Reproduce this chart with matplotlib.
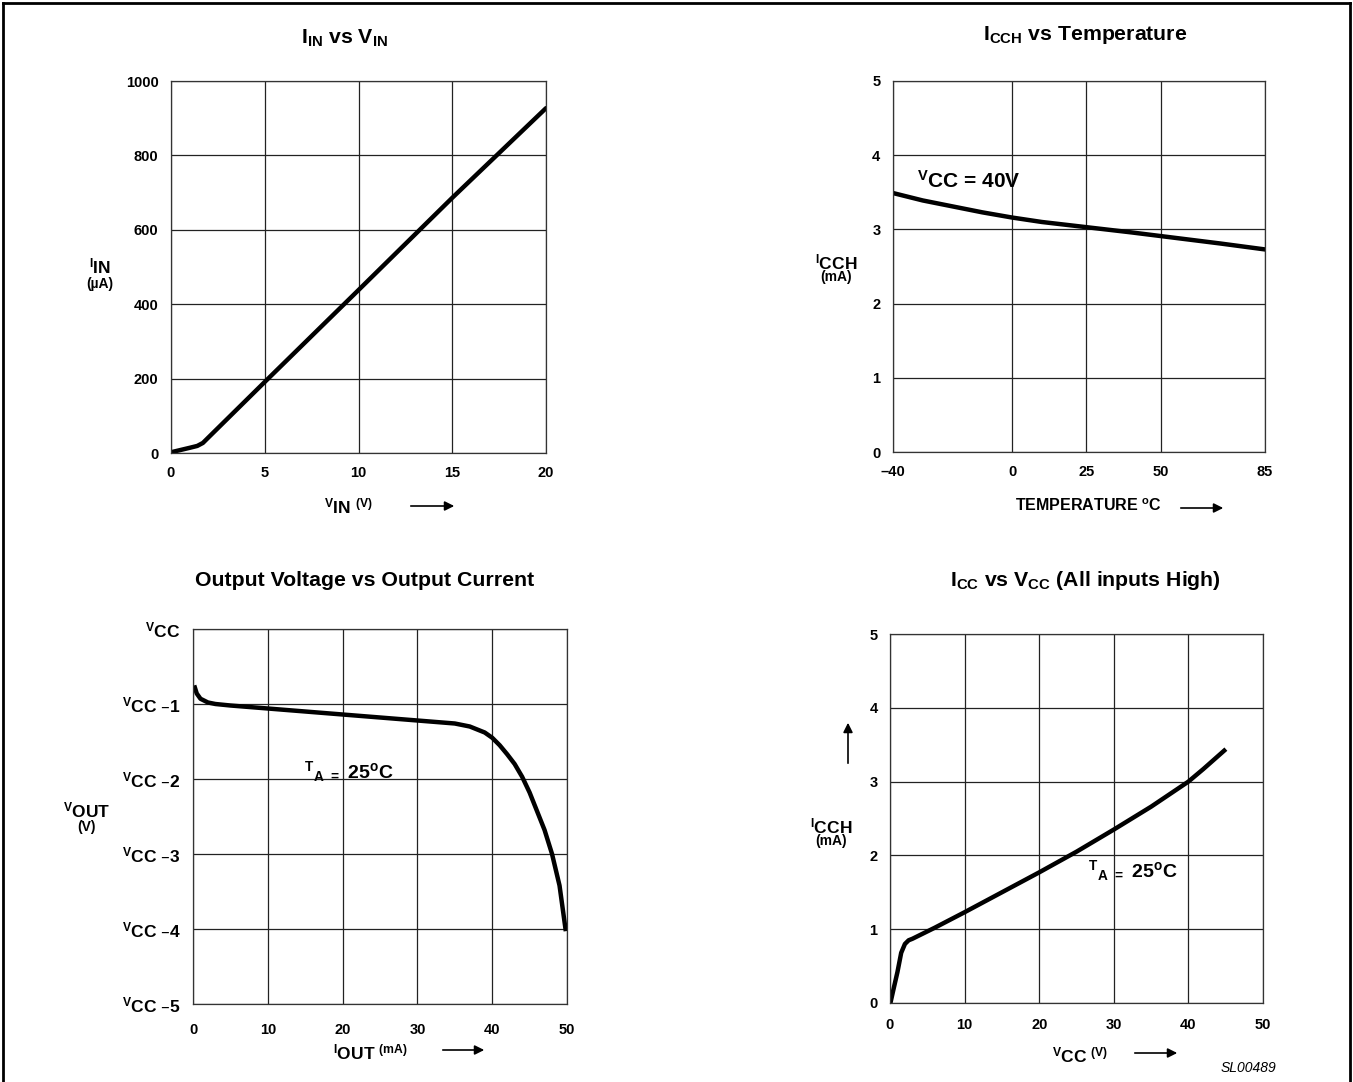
# Datasheet curves: input current, ICCH vs temperature, output voltage, ICC vs VCC
import matplotlib
matplotlib.use('Agg')
import matplotlib.pyplot as plt
from matplotlib.lines import Line2D

plt.rcParams['font.family'] = ['Liberation Sans', 'DejaVu Sans']
plt.rcParams['font.weight'] = 'bold'
plt.rcParams['mathtext.default'] = 'regular'

# I_IN vs V_IN
vin = [0, 0.5, 1.0, 1.4, 1.7, 2.0, 5, 10, 15, 20]
iin = [2, 8, 14, 19, 27, 42, 191, 438, 686, 927]

# I_CCH vs temperature (VCC = 40V)
temp = [-40, -30, -20, -10, 0, 10, 25, 40, 50, 60, 70, 85]
icch_t = [3.49, 3.39, 3.31, 3.23, 3.16, 3.10, 3.03, 2.96, 2.91, 2.86, 2.81, 2.73]
temp_ticks = [-40, 0, 25, 50, 85]

# output voltage vs output current
iout = [0.25, 0.5, 1, 2, 3, 5, 10, 20, 30, 35, 37, 39, 40, 41, 42, 43, 44, 45, 46, 47, 48, 49, 49.8]
vout = [-0.78, -0.86, -0.93, -0.98, -1.0, -1.02, -1.06, -1.14, -1.22, -1.26, -1.3, -1.38,
        -1.45, -1.55, -1.67, -1.8, -1.97, -2.18, -2.43, -2.68, -3.0, -3.42, -4.0]
vout_ticks = [0, -1, -2, -3, -4, -5]
vout_labels = [r'$^{V}$CC', r'$^{V}$CC –1', r'$^{V}$CC –2', r'$^{V}$CC –3', r'$^{V}$CC –4', r'$^{V}$CC –5']

# ICC vs VCC (all inputs high)
vcc = [0.1, 0.5, 1.0, 1.5, 2.0, 2.5, 3.0, 4, 6, 10, 15, 20, 25, 30, 35, 40, 42, 44.8]
icc = [0.02, 0.2, 0.42, 0.68, 0.8, 0.85, 0.87, 0.92, 1.02, 1.23, 1.5, 1.77, 2.05, 2.35, 2.66, 3.0, 3.17, 3.42]

W, H = 1353, 1082
fig = plt.figure(figsize=(W / 100, H / 100), dpi=100)


def fx(x):
    return x / W


def fy(y):
    return 1 - y / H


def make_ax(l, t, r, b):
    ax = fig.add_axes([fx(l), fy(b), (r - l) / W, (b - t) / H])
    ax.grid(True, color='#222222', lw=0.9)
    for s in ax.spines.values():
        s.set_linewidth(0.9)
        s.set_color('#333333')
    ax.tick_params(length=0, labelsize=10.5, pad=9)
    return ax


def arrow(x0, y0, x1, y1):
    fig.add_artist(matplotlib.patches.FancyArrowPatch(
        (fx(x0), fy(y0)), (fx(x1), fy(y1)), transform=fig.transFigure,
        arrowstyle='-|>', mutation_scale=14, color='black', lw=1.2))


TITLE = 15.3
LAB = 12.5
UNIT = 10

# panel 1
ax1 = make_ax(171, 81, 546, 453)
ax1.plot(vin, iin, color='black', lw=3.2, solid_capstyle='round')
ax1.set_xlim(0, 20)
ax1.set_ylim(0, 1000)
ax1.set_xticks([0, 5, 10, 15, 20])
ax1.set_yticks([0, 200, 400, 600, 800, 1000])
fig.text(fx(345), fy(38), r'$I_{IN}$ vs $V_{IN}$', ha='center', va='center', fontsize=TITLE)
fig.text(fx(100), fy(266), r'$^{I}$IN', ha='center', va='center', fontsize=LAB)
fig.text(fx(100), fy(284), '(µA)', ha='center', va='center', fontsize=UNIT)
fig.text(fx(348), fy(506), r'$^{V}$IN $^{(V)}$', ha='center', va='center', fontsize=LAB)
arrow(408, 506, 457, 506)

# panel 2
ax2 = make_ax(893, 81, 1265, 452)
ax2.plot(temp, icch_t, color='black', lw=3.2)
ax2.set_xlim(-40, 85)
ax2.set_ylim(0, 5)
ax2.set_xticks(temp_ticks)
ax2.set_xticklabels(['–40', '0', '25', '50', '85'])
ax2.set_yticks([0, 1, 2, 3, 4, 5])
ax2.text(-32, 3.66, r'$^{V}$CC = 40V', fontsize=15, va='center')
fig.text(fx(1085), fy(35), r'$I_{CCH}$ vs Temperature', ha='center', va='center', fontsize=TITLE)
fig.text(fx(836), fy(262), r'$^{I}$CCH', ha='center', va='center', fontsize=LAB)
fig.text(fx(836), fy(277), '(mA)', ha='center', va='center', fontsize=UNIT)
fig.text(fx(1088), fy(506), r'TEMPERATURE $^{o}$C', ha='center', va='center', fontsize=11.5)
arrow(1178, 508, 1226, 508)

# panel 3
ax3 = make_ax(193, 629, 567, 1004)
ax3.plot(iout, vout, color='black', lw=3.2)
ax3.set_xlim(0, 50)
ax3.set_ylim(-5, 0)
ax3.set_xticks([0, 10, 20, 30, 40, 50])
ax3.set_yticks(vout_ticks)
ax3.set_yticklabels(vout_labels, fontsize=12.5)
ax3.tick_params(axis='y', pad=9)
ax3.tick_params(axis='x', pad=14)
ax3.text(14.8, -1.9, r'$^{T}$$_{A\ =}$ 25$^{o}$C', fontsize=14, va='center')
fig.text(fx(365), fy(580), 'Output Voltage vs Output Current', ha='center', va='center', fontsize=TITLE)
fig.text(fx(87), fy(810), r'$^{V}$OUT', ha='center', va='center', fontsize=LAB)
fig.text(fx(87), fy(827), '(V)', ha='center', va='center', fontsize=UNIT)
fig.text(fx(370), fy(1052), r'$^{I}$OUT $^{(mA)}$', ha='center', va='center', fontsize=LAB)
arrow(440, 1050, 487, 1050)

# panel 4
ax4 = make_ax(890, 634, 1263, 1003)
ax4.plot(vcc, icc, color='black', lw=3.2)
ax4.set_xlim(0, 50)
ax4.set_ylim(0, 5)
ax4.set_xticks([0, 10, 20, 30, 40, 50])
ax4.set_yticks([0, 1, 2, 3, 4, 5])
ax4.tick_params(axis='x', pad=11)
ax4.text(26.5, 1.8, r'$^{T}$$_{A\ =}$ 25$^{o}$C', fontsize=14, va='center')
fig.text(fx(1085), fy(580), r'$I_{CC}$ vs $V_{CC}$ (All inputs High)', ha='center', va='center', fontsize=TITLE)
fig.text(fx(831), fy(826), r'$^{I}$CCH', ha='center', va='center', fontsize=LAB)
fig.text(fx(831), fy(841), '(mA)', ha='center', va='center', fontsize=UNIT)
fig.text(fx(1080), fy(1055), r'$^{V}$CC $^{(V)}$', ha='center', va='center', fontsize=LAB)
arrow(1132, 1053, 1180, 1053)
arrow(848, 766, 848, 720)
fig.text(fx(1248), fy(1068), 'SL00489', ha='center', va='center', fontsize=10,
         style='italic', fontweight='normal')

# outer frame
for xs, ys in [([3, 3], [3, H]), ([3, 1350], [3, 3]), ([1350, 1350], [3, H])]:
    fig.add_artist(Line2D([fx(v) for v in xs], [fy(v) for v in ys],
                          transform=fig.transFigure, color='black', lw=2))

fig.savefig('out.png', dpi=100)
